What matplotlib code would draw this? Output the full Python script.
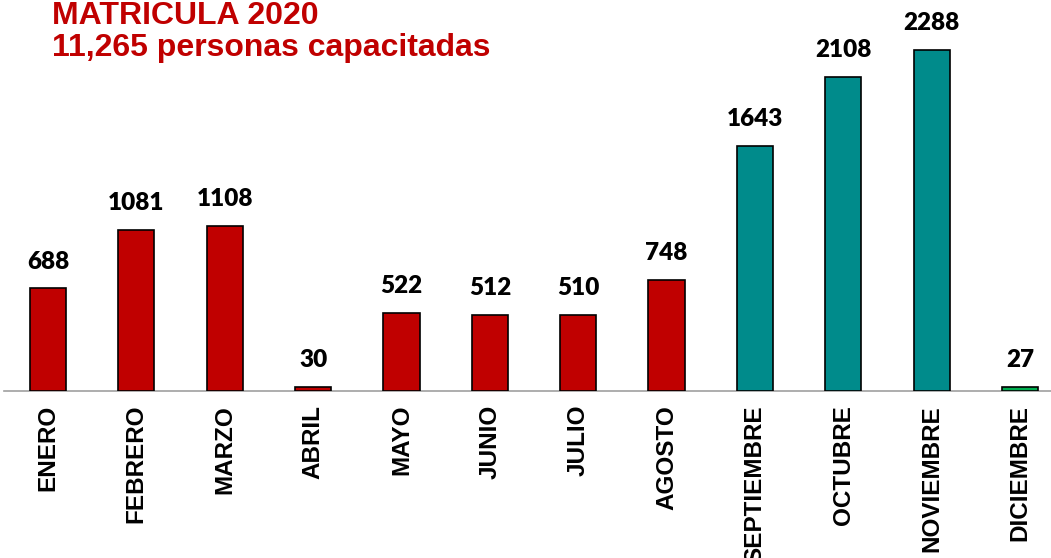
import matplotlib.pyplot as plt
import numpy as np

meses = ['ENERO', 'FEBRERO', 'MARZO', 'ABRIL', 'MAYO', 'JUNIO', 'JULIO',
         'AGOSTO', 'SEPTIEMBRE', 'OCTUBRE', 'NOVIEMBRE', 'DICIEMBRE']
matricula = [688, 1081, 1108, 30, 522, 512, 510, 748, 1643, 2108, 2288, 27]
colores = ['#C00000'] * 8 + ['#008B8B'] * 3 + ['#00B050']

fig = plt.figure(figsize=(10.51, 5.58), dpi=100)
ax = fig.add_axes([3.8 / 1051, 0.2993, 1060.4 / 1051, 0.6677])

x = np.arange(len(meses))
bars = ax.bar(x, matricula, width=0.41, color=colores, edgecolor='black', linewidth=1.2, zorder=3)

for xi, v in zip(x, matricula):
    ax.text(xi, v + 180, str(v), ha='center', va='center', fontsize=17.5,
            fontweight='heavy', family=['Lato', 'DejaVu Sans'])

ax.set_xlim(-0.5, 11.5)
ax.set_ylim(0, 2500)
ax.set_xticks(x)
ax.set_xticklabels(meses, rotation=90, fontsize=17.5, fontweight='bold',
                   family=['Liberation Sans Narrow', 'Liberation Sans', 'DejaVu Sans'])
ax.tick_params(axis='x', length=0, pad=10)
ax.set_yticks([])
for s in ['top', 'right', 'left']:
    ax.spines[s].set_visible(False)
ax.spines['bottom'].set_color('#A0A0A0')
ax.spines['bottom'].set_linewidth(1.2)

fig.text(52 / 1051, 1 - 1 / 558, 'MATRICULA 2020\n11,265 personas capacitadas',
         ha='left', va='top', fontsize=23, fontweight='bold', color='#C00000',
         family=['Liberation Sans', 'DejaVu Sans'], linespacing=1.1)

fig.savefig('out.png', dpi=100)
